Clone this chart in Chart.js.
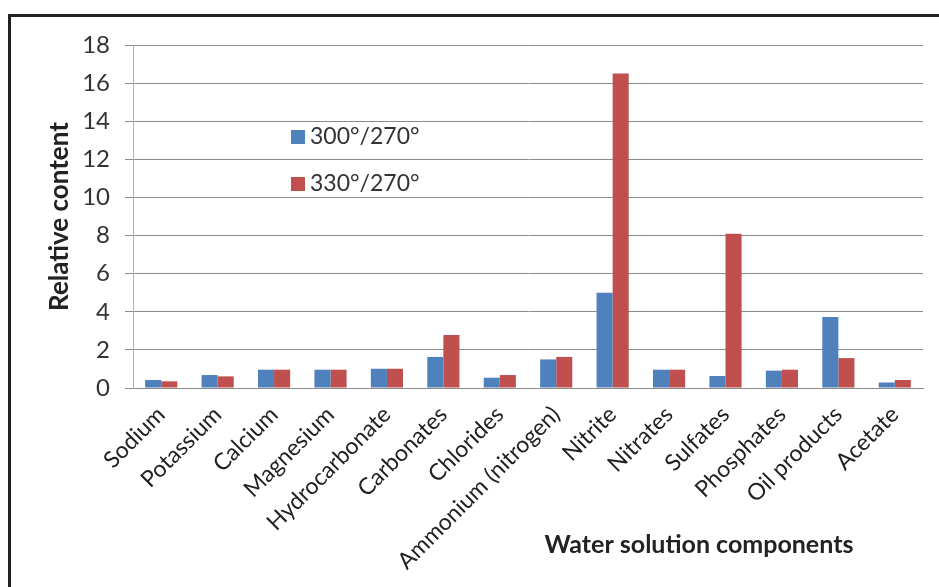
<!DOCTYPE html>
<html>
<head>
<meta charset="utf-8">
<script src="https://cdn.jsdelivr.net/npm/chart.js@4.4.1/dist/chart.umd.min.js"></script>
<style>
    html, body { margin: 0; padding: 0; background: #fff; }
    #contenedor { position: relative; width: 939px; height: 587px; overflow: hidden; }
    #marco { position: absolute; left: 8px; top: 14px; width: 1000px; height: 700px; border: 3px solid #222; }
    #grafica { position: absolute; left: 0; top: 0; }
</style>
</head>
<body>
<div id="contenedor">
    <div id="marco"></div>
    <canvas id="grafica" width="939" height="587"></canvas>
</div>
<script>
// Datos
const componentes = ['Sodium', 'Potassium', 'Calcium', 'Magnesium', 'Hydrocarbonate', 'Carbonates', 'Chlorides',
    'Ammonium (nitrogen)', 'Nitrite', 'Nitrates', 'Sulfates', 'Phosphates', 'Oil products', 'Acetate'];
const serie300 = [0.42, 0.68, 0.96, 0.96, 1.01, 1.63, 0.54, 1.50, 5.0, 0.96, 0.63, 0.91, 3.72, 0.29];
const serie330 = [0.35, 0.61, 0.96, 0.96, 1.01, 2.78, 0.68, 1.63, 16.5, 0.96, 8.1, 0.96, 1.57, 0.42];
const nombresSeries = ['300°/270°', '330°/270°'];
const coloresSeries = ['#4F81BD', '#C0504D'];
const ejeYMin = 0;
const ejeYMax = 18;
const ejeYPaso = 2;

const fuente = 'Lato';

// Leyenda dentro del área de la gráfica y título del eje X
const extras = {
    id: 'extras',
    afterDraw(chart) {
        const ctx = chart.ctx;
        const area = chart.chartArea;
        ctx.save();
        ctx.font = '23px ' + fuente;
        ctx.textBaseline = 'middle';
        chart.data.datasets.forEach((ds, i) => {
            const y = area.top + 92 + i * 47;
            const x = area.left + 158;
            ctx.fillStyle = ds.backgroundColor;
            ctx.fillRect(x, y - 7, 14, 14);
            ctx.fillStyle = '#333';
            ctx.textAlign = 'left';
            ctx.fillText(ds.label, x + 19, y);
        });
        ctx.font = 'bold 25px ' + fuente;
        ctx.fillStyle = '#222';
        ctx.textAlign = 'center';
        ctx.fillText('Water solution components', area.left + 566, 545);
        ctx.restore();
    }
};

function generarGrafica() {
    const ctx = document.getElementById('grafica').getContext('2d');

    new Chart(ctx, {
        type: 'bar',
        data: {
            labels: componentes,
            datasets: [
                {
                    label: nombresSeries[0],
                    data: serie300,
                    backgroundColor: coloresSeries[0],
                    borderWidth: 0,
                },
                {
                    label: nombresSeries[1],
                    data: serie330,
                    backgroundColor: coloresSeries[1],
                    borderWidth: 0,
                },
            ],
        },
        options: {
            responsive: false,
            animation: false,
            layout: { padding: { top: 45, right: 16, left: 0, bottom: 0 } },
            datasets: { bar: { categoryPercentage: 0.57, barPercentage: 1.0 } },
            plugins: {
                legend: { display: false },
                tooltip: { enabled: false },
            },
            scales: {
                x: {
                    afterFit: (s) => { s.height = 199; },
                    grid: { display: false, drawTicks: false },
                    border: { display: true, color: '#8a8a8a', width: 1 },
                    ticks: {
                        autoSkip: false,
                        maxRotation: 45,
                        minRotation: 45,
                        padding: 13,
                        color: '#222',
                        font: { family: fuente, size: 23 },
                    },
                },
                y: {
                    min: ejeYMin,
                    max: ejeYMax,
                    afterFit: (s) => { s.width = 133; },
                    grid: { color: '#8a8a8a', lineWidth: 1, tickLength: 8, drawTicks: true },
                    border: { display: true, color: '#b0b0b0', width: 1 },
                    ticks: {
                        stepSize: ejeYPaso,
                        padding: 15,
                        color: '#333',
                        font: { family: fuente, size: 24 },
                    },
                    title: {
                        display: true,
                        text: 'Relative content',
                        color: '#222',
                        font: { family: fuente, size: 26, weight: 'bold' },
                        padding: { top: 44 },
                    },
                },
            },
        },
        plugins: [extras],
    });
}

document.addEventListener('DOMContentLoaded', generarGrafica);
</script>
</body>
</html>
